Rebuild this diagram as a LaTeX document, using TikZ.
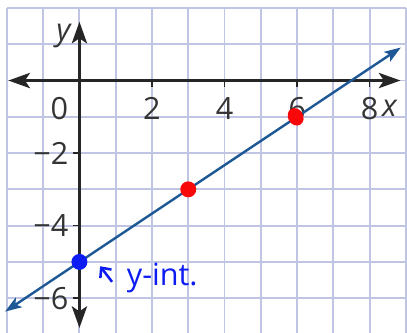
\documentclass[tikz,border=0pt]{standalone}
\usepackage{fontspec}
\setmainfont{Open Sans}
\usepackage{tikz}
\usetikzlibrary{arrows.meta,positioning,shapes.geometric}
\usepackage{xcolor}
\definecolor{gridblue}{RGB}{192,197,228}
\definecolor{lineblue}{RGB}{30,88,150}
\definecolor{dotblue}{RGB}{12,28,242}
\definecolor{dotred}{RGB}{248,8,8}
\definecolor{labelgray}{RGB}{52,52,52}

\begin{document}
\begin{tikzpicture}[
    gridline/.style={draw=gridblue, line width=1.5pt},
    axisline/.style={draw=black!85, line width=2pt,
        {Stealth[length=17pt,width=12pt,inset=4pt]}-{Stealth[length=17pt,width=12pt,inset=4pt]}},
    fitline/.style={draw=lineblue, line width=1.9pt,
        {Stealth[length=13pt,width=9pt,inset=3pt]}-{Stealth[length=13pt,width=9pt,inset=3pt]}},
    axistick/.style={draw=black!85, line width=1.2pt},
    ticklbl/.style={text=labelgray, font=\fontsize{24}{28}\selectfont, inner sep=0pt},
    ptdot/.style={circle, minimum size=0.44cm, inner sep=0pt},
    intlbl/.style={text=dotblue, font=\fontsize{24}{28}\selectfont, inner sep=0pt}
]
    % Rahmen und Gitter
    \useasboundingbox (-2.19,-6.96) rectangle (9.03,2.22);
    \draw[gridline] (-2,-6.96) grid (9,2);

    % Achsen
    \coordinate (xL) at (-1.96,0);
    \coordinate (xR) at (8.85,0);
    \coordinate (yT) at (0,1.62);
    \coordinate (yB) at (0,-6.82);
    \draw[axisline] (xL) -- (xR);
    \draw[axisline] (yB) -- (yT);

    % Teilstriche und Beschriftung
    \foreach \x in {2,4,6,8} {
        \draw[axistick] (\x,0) -- (\x,-0.17);
        \node[ticklbl] at (\x,-0.77) {\x};
    }
    \foreach \y in {-2,-4,-6} {
        \draw[axistick] (0,\y) -- (-0.17,\y);
        \node[ticklbl, anchor=east] at (-0.3,\y) {−\the\numexpr-\y\relax};
    }
    \node[ticklbl] (origin) at (-0.55,-0.77) {0};
    \node[ticklbl] (xlbl) at (8.55,-0.77) {\itshape x};
    \node[ticklbl] (ylbl) at (-0.44,1.23) {\itshape y};

    % Gerade y = 2/3 x - 5
    \coordinate (lineS) at (-2.05,-6.37);
    \coordinate (lineE) at (8.86,0.91);
    \draw[fitline] (lineS) -- (lineE);

    % Punkte
    \node[ptdot, fill=dotblue] (yint) at (0,-5) {};
    \node[ptdot, fill=dotred] (pta) at (3,-3) {};
    \node[ellipse, fill=dotred, inner sep=0pt, rotate=30, minimum width=0.42cm, minimum height=0.5cm] (ptb) at (5.96,-1) {};

    % Notiz
    \node[intlbl, anchor=west] (yintlbl) at (1.3,-5.45) {y-int.};
    \draw[dotblue, line width=2pt, -{Straight Barb[length=6pt,width=11pt]}]
        ([shift={(-0.4,-0.1)}]yintlbl.west) -- ([shift={(0.57,-0.12)}]yint.center);
\end{tikzpicture}
\end{document}
